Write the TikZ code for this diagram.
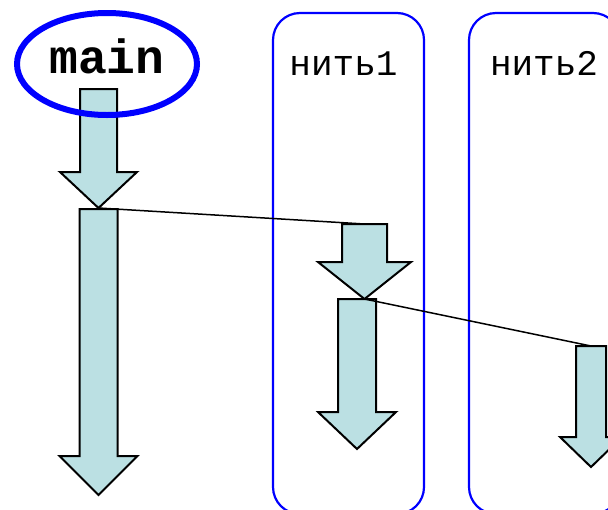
\documentclass[tikz,border=0pt]{standalone}
\usepackage{fontspec}
\setmonofont{Liberation Mono}
\usetikzlibrary{shapes.geometric}
\definecolor{laneBlue}{HTML}{0000FF}
\definecolor{flowFill}{HTML}{BBE0E3}
% name, x, top, neck, tip, half shaft, half head
\newcommand{\flowarrow}[7]{%
  \draw[flow] (#2-#6,#3) -- (#2+#6,#3) -- (#2+#6,#4) -- (#2+#7,#4) -- (#2,#5)
    -- (#2-#7,#4) -- (#2-#6,#4) -- cycle;
  \coordinate (#1-top) at (#2,#3);
  \coordinate (#1-tip) at (#2,#5);
}

\begin{document}
\begin{tikzpicture}[x=0.5pt, y=-0.5pt,
  flow/.style={draw=black, fill=flowFill, line width=1pt, line join=miter},
  lane/.style={rectangle, draw=laneBlue, line width=1.1pt, rounded corners=13.5pt,
    inner sep=0pt, minimum width=75.5pt, minimum height=250.5pt},
  lanelbl/.style={font=\ttfamily\fontsize{18}{20}\selectfont, anchor=base},
  link/.style={draw=black, line width=0.75pt},
  ring/.style={ellipse, draw=laneBlue, line width=3pt, inner sep=0pt,
    font=\ttfamily\bfseries\fontsize{24}{26}\selectfont, text height=9pt, text depth=0pt}]
  \useasboundingbox (0,0) rectangle (608,509);
  \clip (0,0) rectangle (608,509);

  \node[lane] (lane1) at (348.5,263.5) {};
  \node[lane] (lane2) at (544.5,263.5) {};
  \node[lanelbl] (lbl1) at (343.5,75) {нить1};
  \node[lanelbl] (lbl2) at (544,75) {нить2};

  \flowarrow{m1}{98.5}{89}{172}{208}{18.5}{38.5}
  \flowarrow{m2}{98.5}{209}{456}{495}{19}{39}
  \flowarrow{t1a}{364.5}{224}{262}{299}{22.5}{46.5}
  \flowarrow{t1b}{357}{299}{412}{449}{19}{39}
  \flowarrow{t2a}{591}{346}{437}{467}{15}{31}

  \draw[link] (m1-tip) -- (t1a-top);
  \draw[link] (t1a-tip) -- (t2a-top);

  \node[ring, minimum width=90pt, minimum height=51pt] (mainlbl) at (107,64) {main};
\end{tikzpicture}
\end{document}
